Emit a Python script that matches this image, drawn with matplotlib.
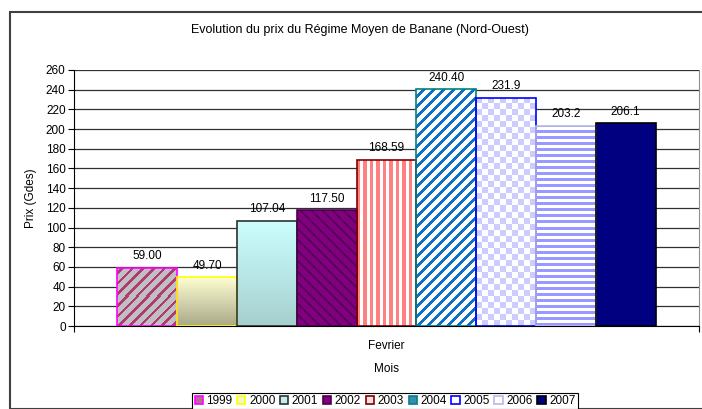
import numpy as np
import matplotlib
matplotlib.use('Agg')
import matplotlib.pyplot as plt
from matplotlib.patches import Patch, Rectangle
from matplotlib.colors import to_rgb

plt.rcParams['font.family'] = ['Liberation Sans', 'DejaVu Sans']
plt.rcParams['font.size'] = 8.5

TITLE = 'Evolution du prix du Régime Moyen de Banane (Nord-Ouest)'
CATEGORY = 'Fevrier'
years = ['1999', '2000', '2001', '2002', '2003', '2004', '2005', '2006', '2007']
prices = [59.00, 49.70, 107.04, 117.50, 168.59, 240.40, 231.9, 203.2, 206.1]
price_labels = ['59.00', '49.70', '107.04', '117.50', '168.59', '240.40', '231.9', '203.2', '206.1']

# motif de chaque barre: (motif, fond, couleur2, bordure, periode px, epaisseur px)
styles = [
    ('diag_up', '#C0C0C0', '#AE3A76', '#FF00FF', 10.7, 3.6),
    ('grad', '#FFFFD2', '#A9A98A', '#FFFF00', 0, 0),
    ('grad', '#CCFFFF', '#A6CFCF', '#303030', 0, 0),
    ('diag_down', '#800080', '#5C005C', '#4A004A', 10.7, 3.0),
    ('vert', '#FFFFFF', '#FF8080', '#800000', 6.5, 3.4),
    ('diag_up', '#FFFFFF', '#0F70C8', '#008080', 10.0, 4.0),
    ('check', '#FFFFFF', '#CCCCFF', '#0000FF', 6.0, 0),
    ('horiz', '#FFFFFF', '#9999FF', '#B8B8E8', 6.0, 2.8),
    ('solid', '#000080', '#000080', '#000000', 0, 0),
]
legend_faces = ['#B07090', '#F4F4C8', '#C6EDED', '#800080', '#FFE0E0',
                '#3A8CB8', '#FFFFFF', '#FFFFFF', '#000080']


def texture(kind, bg, fg, nx, ny, period, thick):
    col, row = np.meshgrid(np.arange(nx) + 0.5, np.arange(ny) + 0.5)
    if kind == 'diag_up':
        mask = ((col - row) % period) < thick
    elif kind == 'diag_down':
        mask = ((col + row) % period) < thick
    elif kind == 'vert':
        mask = (col % period) < thick
    elif kind == 'horiz':
        mask = (row % period) < thick
    elif kind == 'check':
        mask = ((col // period + row // period) % 2) == 1
    elif kind == 'grad':
        t = (row / ny)[..., None]
        return np.array(to_rgb(fg)) * (1 - t) + np.array(to_rgb(bg)) * t
    else:
        mask = np.zeros((ny, nx), bool)
    img = np.empty((ny, nx, 3))
    img[:] = to_rgb(bg)
    img[mask] = to_rgb(fg)
    return img


def main():
    fig = plt.figure(figsize=(7.02, 4.09), dpi=100)
    ax_rect = [0.1054, 0.2029, 0.8903, 0.626]
    ax = fig.add_axes(ax_rect)

    # cadre du graphique
    fig.patches.append(Rectangle((10 / 702, 0), 1.2, 1 - 12 / 409, transform=fig.transFigure,
                                 fill=False, edgecolor='#404040', linewidth=1.5))

    n = len(years)
    width = 0.861 / n
    xs = (np.arange(n) - (n - 1) / 2) * width
    ppx = ax_rect[2] * 702      # px par unite x
    ppy = ax_rect[3] * 409 / 260.0  # px par unite y

    for x, v, st in zip(xs, prices, styles):
        kind, bg, c2, edge, period, thick = st
        b = ax.bar(x, v, width, color=bg, linewidth=0, zorder=2)[0]
        if kind != 'solid':
            nx = max(1, int(round(width * ppx)))
            ny = max(1, int(round(v * ppy)))
            img = texture(kind, bg, c2, nx, ny, period, thick)
            im = ax.imshow(img, origin='lower', extent=(x - width / 2, x + width / 2, 0, v),
                           aspect='auto', interpolation='nearest', zorder=2)
            im.set_clip_path(b)
        ax.bar(x, v, width, fill=False, edgecolor=edge, linewidth=1.2, zorder=3)

    for x, v, lab in zip(xs, prices, price_labels):
        ax.annotate(lab, (x, v), xytext=(0, 4), textcoords='offset points',
                    ha='center', va='bottom', fontsize=8.5, zorder=4)

    ax.set_xlim(-0.5, 0.5)
    ax.set_ylim(0, 260)
    ax.set_yticks(np.arange(0, 261, 20))
    ax.yaxis.grid(True, color='#303030', linewidth=0.9)
    ax.set_axisbelow(True)
    ax.set_xticks([-0.5, 0.5])
    ax.set_xticklabels([])
    ax.set_xticks([0], minor=True)
    ax.set_xticklabels([CATEGORY], minor=True)
    ax.tick_params(axis='x', which='minor', length=0, pad=10)
    ax.tick_params(axis='x', which='major', length=4, direction='out')
    ax.tick_params(axis='y', length=4, pad=2, direction='out')
    ax.spines['top'].set_visible(False)
    ax.spines['right'].set_color('#909090')
    ax.spines['left'].set_color('#000000')
    ax.spines['bottom'].set_color('#000000')
    ax.set_xlabel('Mois', labelpad=8)
    ax.set_ylabel('Prix (Gdes)', labelpad=6)

    fig.text(360 / 702, 1 - 30 / 409, TITLE, ha='center', va='center', fontsize=9)

    handles = [Patch(facecolor=f, edgecolor=st[3], linewidth=1.2) for f, st in zip(legend_faces, styles)]
    leg = fig.legend(handles, years, loc='center', bbox_to_anchor=(385 / 702, 1 - 401 / 409),
                     ncol=n, fontsize=8.5, handlelength=0.7, handleheight=0.7,
                     handletextpad=0.3, columnspacing=0.4, borderpad=0.2,
                     fancybox=False, framealpha=1, edgecolor='#000000')
    leg.get_frame().set_linewidth(0.8)

    fig.savefig('out.png', dpi=100)


if __name__ == '__main__':
    main()
